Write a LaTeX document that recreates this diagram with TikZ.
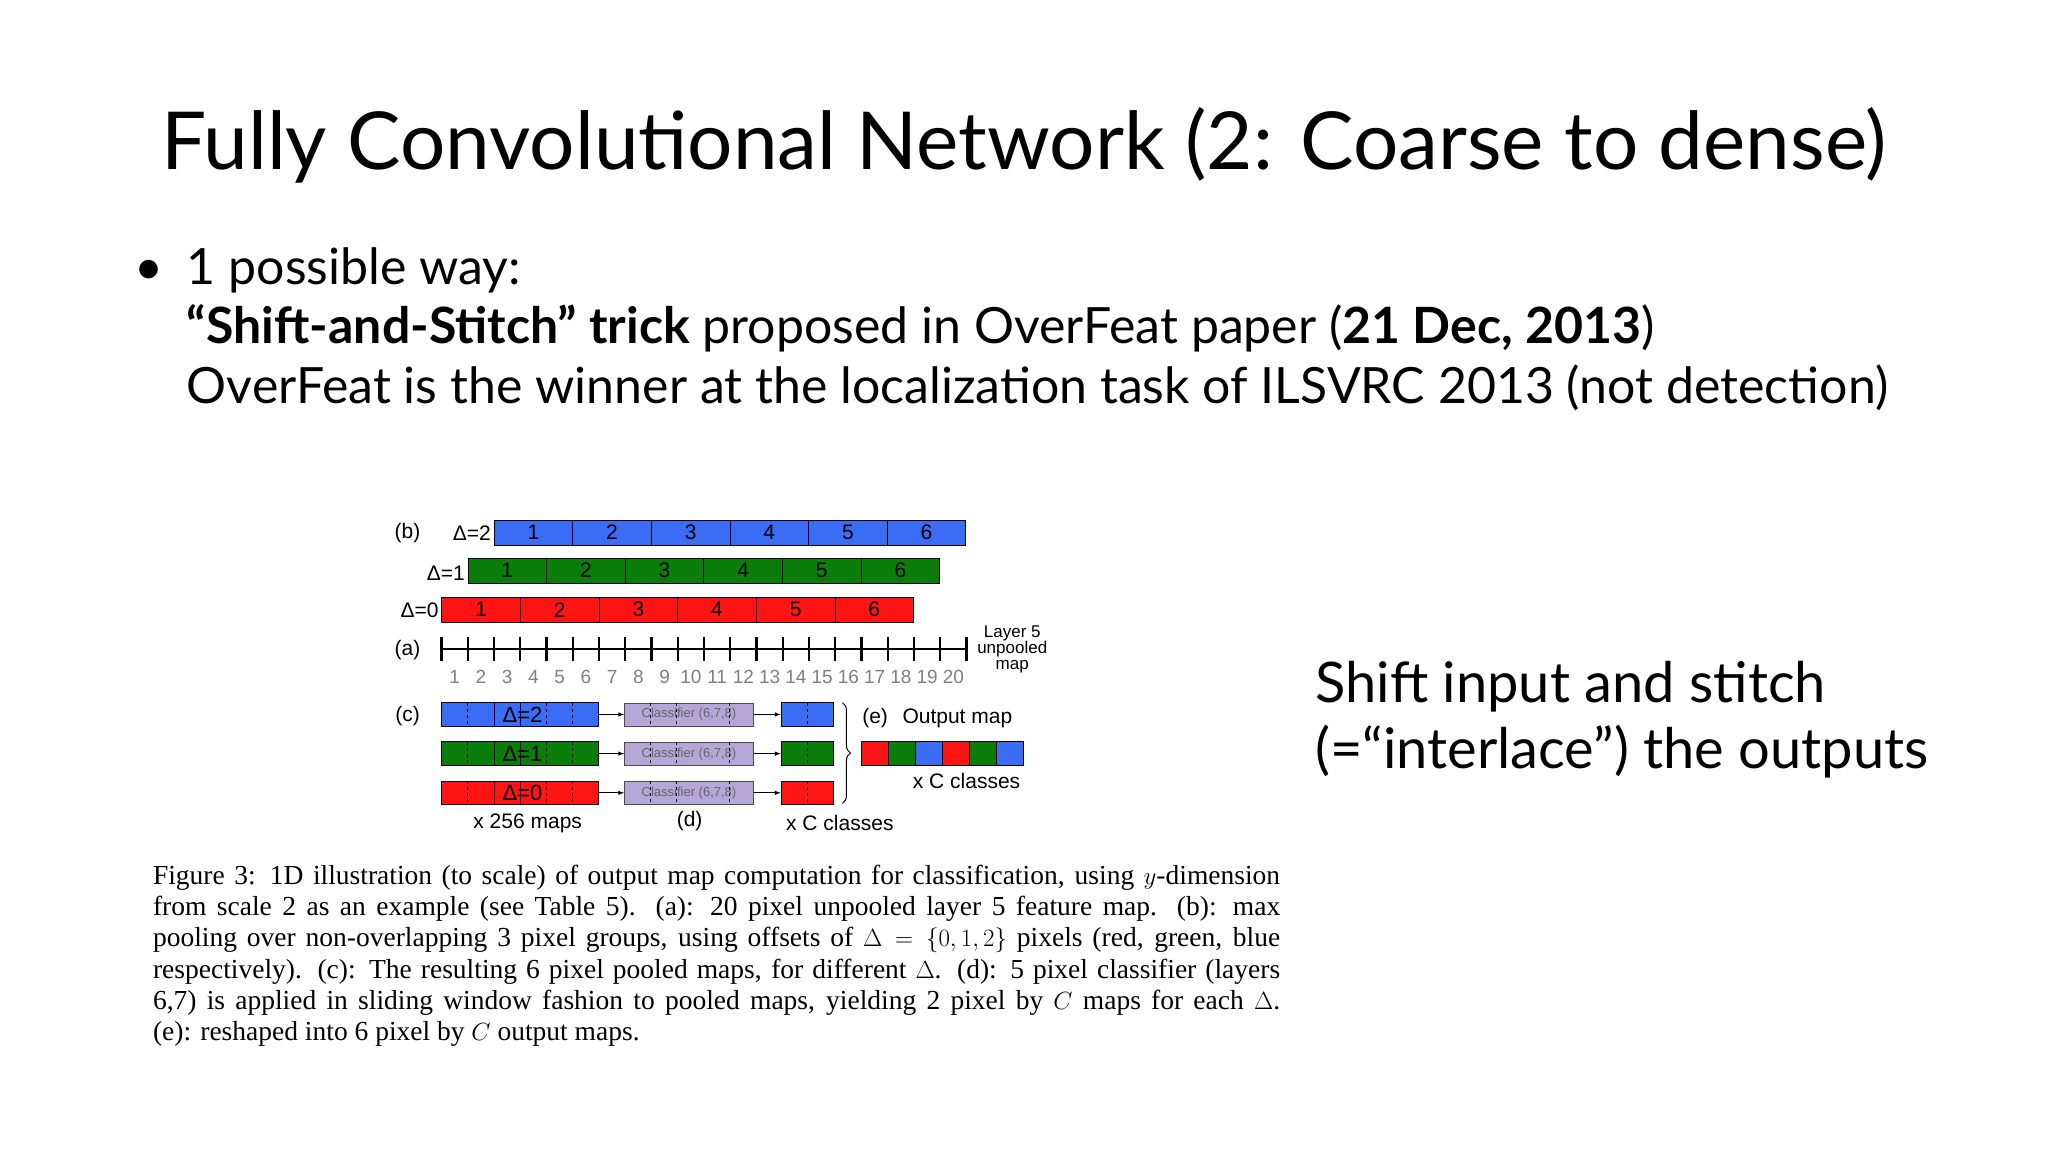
\documentclass[tikz,border=0pt]{standalone}
\usepackage{fontspec}
\setmainfont{Lato}
\newfontfamily\capfont{Liberation Serif}
\newfontfamily\figfont{Liberation Sans}
\usetikzlibrary{decorations.pathreplacing}
\definecolor{cb}{HTML}{3B6CF5}
\definecolor{cg}{HTML}{0B7D0B}
\definecolor{cr}{HTML}{FF1414}
\definecolor{cp}{HTML}{B4A6D6}
\newcommand{\fsz}[1]{\fontsize{#1}{#1}\selectfont}
\tikzset{
  lbl/.style={font=\figfont\fsz{21}, inner sep=0pt},
  sml/.style={font=\figfont\fsz{17}, inner sep=0pt, align=center},
  cell/.style={draw=black, line width=0.8pt},
  arr/.style={-latex, line width=1pt}
}
\begin{document}
\begin{tikzpicture}[x=1.306pt,y=-1.306pt]
\useasboundingbox (0,0) rectangle (1568,882);
\fill[white] (0,0) rectangle (1568,882);
% title
\node[anchor=base, inner sep=0pt, font=\fsz{80}] (title) at (784,130) {Fully Convolutional Network (2: Coarse to dense)};
\node[anchor=base west, inner sep=0pt, font=\fsz{50}] (bul) at (103,218) {\textbullet};
\node[anchor=base west, inner sep=0pt, font=\fsz{50}] (l1) at (143,218) {1 possible way:};
\node[anchor=base west, inner sep=0pt, font=\fsz{50}] (l2) at (143,263) {\textbf{“Shift-and-Stitch” trick} proposed in OverFeat paper (\textbf{21 Dec, 2013})};
\node[anchor=base west, inner sep=0pt, font=\fsz{50}] (l3) at (143,309) {OverFeat is the winner at the localization task of ILSVRC 2013 (not detection)};
\node[anchor=base west, inner sep=0pt, font=\fsz{56}] (r1) at (1007,538) {Shift input and stitch};
\node[anchor=base west, inner sep=0pt, font=\fsz{56}] (r2) at (1007,588) {(=“interlace”) the outputs};
% pooled rows
\foreach \c/\x/\y/\d in {cb/378/398/2, cg/358/427/1, cr/338/457/0}{
  \foreach \i in {1,...,6}{
    \node[cell, fill=\c, minimum width=60.2*1.306pt, minimum height=19*1.306pt, anchor=north west, inner sep=0pt, font=\figfont\fsz{21}] (p\d-\i) at ({\x+(\i-1)*60.2},\y) {\i};
  }
}
\node[lbl, anchor=east] (d2) at (376,408) {Δ=2};
\node[lbl, anchor=east] (d1) at (356,439) {Δ=1};
\node[lbl, anchor=east] (d0) at (336,467) {Δ=0};
\node[lbl] (lb) at (312,408) {(b)};
\node[lbl] (la) at (312,498) {(a)};
% ruler
\coordinate (r0) at (338,497);
\coordinate (r20) at (740,497);
\draw[line width=2.6pt] (r0) -- (r20);
\foreach \i in {0,...,20}{
  \draw[line width=2.4pt] ({338+\i*20.1},488) -- ({338+\i*20.1},506);
}
\foreach \i in {1,...,20}{
  \node[font=\figfont\fsz{19}, text=gray, inner sep=0pt] (n\i) at ({338+(\i-0.5)*20.1},518) {\i};
}
\node[sml] (layer) at (775,497) {Layer 5\\[-1pt]unpooled\\[-1pt]map};
% (c) rows
\node[lbl] (lc) at (312,548) {(c)};
\foreach \c/\y/\d in {cb/547/2, cg/577/1, cr/607/0}{
  \node[cell, fill=\c, minimum width=120*1.306pt, minimum height=18*1.306pt, inner sep=0pt] (m\d) at (398,\y) {};
  \draw (378,\y-9) -- (378,\y+9) (398,\y-9) -- (398,\y+9);
  \draw[dashed] (358,\y-9) -- (358,\y+9) (418,\y-9) -- (418,\y+9) (438,\y-9) -- (438,\y+9);
  \node[font=\figfont\fsz{22}, inner sep=0pt] (t\d) at (400,\y) {Δ=\d};
  \node[draw=black!70, fill=cp, minimum width=99*1.306pt, minimum height=18*1.306pt, inner sep=0pt, font=\figfont\fsz{13}, text=black!60] (k\d) at (527.5,\y) {Classifier (6,7,8)};
  \draw[dashed] (498,\y-9) -- (498,\y+9) (518,\y-9) -- (518,\y+9) (558,\y-9) -- (558,\y+9);
  \node[cell, fill=\c, minimum width=40*1.306pt, minimum height=18*1.306pt, inner sep=0pt] (o\d) at (618,\y) {};
  \draw[dashed] (618,\y-9) -- (618,\y+9);
  \draw[arr] (m\d) -- (k\d);
  \draw[arr] (k\d) -- (o\d);
}
\draw[decorate, decoration={brace, amplitude=8pt}, line width=1pt] (645,538) -- (645,615);
\node[lbl] (le) at (670,550) {(e)};
\node[lbl] (om) at (733,550) {Output map};
\foreach \c [count=\i] in {cr,cg,cb,cr,cg,cb}{
  \node[cell, fill=\c, minimum width=20.7*1.306pt, minimum height=19*1.306pt, inner sep=0pt, anchor=north west] (q\i) at ({659+(\i-1)*20.7},567) {};
}
\node[lbl] (xc1) at (740,598) {x C classes};
\node[lbl] (x256) at (404,630) {x 256 maps};
\node[lbl] (ld) at (528,629) {(d)};
\node[lbl] (xc2) at (643,630) {x C classes};
% caption
\node[anchor=north west, inner sep=0pt, text width=863*1.306pt, align=justify, font=\capfont\fontsize{27.5}{31.3}\selectfont] (cap) at (117,662)
{Figure 3: 1D illustration (to scale) of output map computation for classification, using $y$-dimension\linebreak from scale 2 as an example (see Table 5). (a): 20 pixel unpooled layer 5 feature map. (b): max\linebreak pooling over non-overlapping 3 pixel groups, using offsets of $\Delta=\{0,1,2\}$ pixels (red, green, blue\linebreak respectively). (c): The resulting 6 pixel pooled maps, for different $\Delta$. (d): 5 pixel classifier (layers\linebreak 6,7) is applied in sliding window fashion to pooled maps, yielding 2 pixel by $C$ maps for each $\Delta$.\linebreak (e): reshaped into 6 pixel by $C$ output maps.\par};
\end{tikzpicture}
\end{document}
